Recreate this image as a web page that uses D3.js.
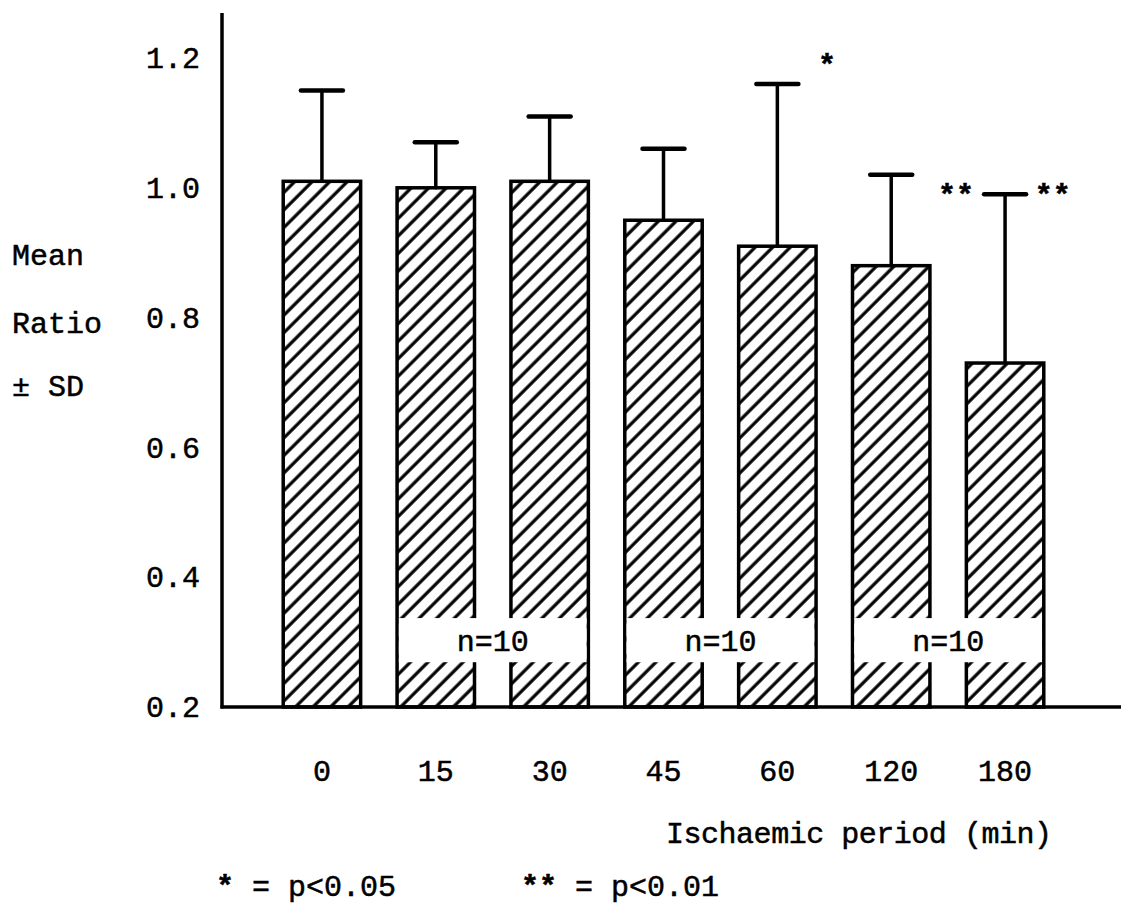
<!DOCTYPE html>
<html>
<head>
<meta charset="utf-8">
<script src="https://cdn.jsdelivr.net/npm/d3@7"></script>
<style>
  html, body { margin: 0; padding: 0; background: #fff; }
  svg { display: block; }
  text { font-family: "Liberation Mono", "Courier New", monospace; font-size: 30px; fill: #000; stroke: #000; stroke-width: 0.5px; }
  .star { font-weight: bold; }
</style>
</head>
<body>
<script>
// Ischaemic period groups (min)
const periods = ["0", "15", "30", "45", "60", "120", "180"];
// Mean ratio per period and its standard deviation
const meanRatio = [1.01, 1.00, 1.01, 0.95, 0.91, 0.88, 0.73];
const sdRatio   = [0.14, 0.07, 0.10, 0.11, 0.25, 0.14, 0.26];
// Significance markers per period
const significance = ["", "", "", "", "*", "**", "**"];
// Period pairs sharing a sample-size label
const sampleGroups = [["15", "30"], ["45", "60"], ["120", "180"]];
const sampleLabel = "n=10";
// Y axis tick values
const yTicks = [0.2, 0.4, 0.6, 0.8, 1.0, 1.2];

const W = 1121, H = 908;
const svg = d3.select("body").append("svg").attr("width", W).attr("height", H);
svg.append("rect").attr("width", W).attr("height", H).attr("fill", "#fff");

const y = d3.scaleLinear().domain([0.2, 1.2]).range([707, 58]);
const x = d3.scaleBand().domain(periods).range([265, 1062]).paddingInner(0.32).paddingOuter(0.16);
const bw = x.bandwidth();
const axisX = 222;

// Diagonal hatch fill
const defs = svg.append("defs");
defs.append("pattern")
  .attr("id", "hatch")
  .attr("patternUnits", "userSpaceOnUse")
  .attr("width", 12.4).attr("height", 12.4)
  .attr("patternTransform", "rotate(45)")
  .append("line")
  .attr("x1", 2).attr("y1", -2).attr("x2", 2).attr("y2", 15)
  .attr("stroke", "#000").attr("stroke-width", 3.2);

const data = periods.map((p, i) => ({ p, mean: meanRatio[i], sd: sdRatio[i], sig: significance[i] }));

// Bars
svg.append("g").selectAll("rect").data(data).join("rect")
  .attr("x", d => x(d.p))
  .attr("y", d => y(d.mean))
  .attr("width", bw)
  .attr("height", d => y(0.2) - y(d.mean))
  .attr("fill", "url(#hatch)")
  .attr("stroke", "#000").attr("stroke-width", 3.5);

// Error bars (upper SD only)
const err = svg.append("g").attr("stroke", "#000").attr("stroke-linecap", "round");
err.selectAll("line.v").data(data).join("line").attr("class", "v")
  .attr("x1", d => x(d.p) + bw / 2).attr("x2", d => x(d.p) + bw / 2)
  .attr("y1", d => y(d.mean)).attr("y2", d => y(d.mean + d.sd))
  .attr("stroke-width", 3.5);
err.selectAll("line.cap").data(data).join("line").attr("class", "cap")
  .attr("x1", d => x(d.p) + bw / 2 - 21).attr("x2", d => x(d.p) + bw / 2 + 21)
  .attr("y1", d => y(d.mean + d.sd)).attr("y2", d => y(d.mean + d.sd))
  .attr("stroke-width", 4.5);

// Sample-size boxes spanning each pair of bars
const boxTop = 0.337, boxBottom = 0.269;
const nb = svg.append("g");
sampleGroups.forEach(([a, b]) => {
  const x0 = x(a), x1 = x(b) + bw;
  nb.append("rect")
    .attr("x", x0 + 1.75).attr("y", y(boxTop))
    .attr("width", x1 - x0 - 3.5).attr("height", y(boxBottom) - y(boxTop))
    .attr("fill", "#fff");
  nb.append("text")
    .attr("x", (x0 + x1) / 2).attr("y", y((boxTop + boxBottom) / 2))
    .attr("dy", "0.35em").attr("text-anchor", "middle")
    .text(sampleLabel);
});

// Significance markers
const sigPlacement = { "60": { dx: 2, level: 1.2 }, "120": { dx: 8, level: 1.0 }, "180": { dx: -9, level: 1.0 } };
svg.append("g").selectAll("text").data(data.filter(d => d.sig)).join("text")
  .attr("class", "star")
  .attr("x", d => x(d.p) + bw + sigPlacement[d.p].dx)
  .attr("y", d => y(sigPlacement[d.p].level) + 17)
  .text(d => d.sig);

// Axes
const yAxis = svg.append("g").attr("transform", `translate(${axisX},0)`)
  .call(d3.axisLeft(y).tickValues(yTicks).tickSize(0).tickPadding(22).tickFormat(d3.format(".1f")));
yAxis.select(".domain").remove();
yAxis.selectAll("text").attr("font-size", null).attr("font-family", null);

const xAxis = svg.append("g").attr("transform", `translate(0,${y(0.2)})`)
  .call(d3.axisBottom(x).tickSize(0).tickPadding(53));
xAxis.select(".domain").remove();
xAxis.selectAll("text").attr("font-size", null).attr("font-family", null);

svg.append("line")
  .attr("x1", axisX).attr("x2", axisX)
  .attr("y1", 13).attr("y2", y(0.2) + 1.5)
  .attr("stroke", "#000").attr("stroke-width", 3.5);
svg.append("line")
  .attr("x1", axisX - 1.5).attr("x2", W)
  .attr("y1", y(0.2)).attr("y2", y(0.2))
  .attr("stroke", "#000").attr("stroke-width", 3.5);

// Axis titles
const yTitle = svg.append("g");
[["Mean", 265], ["Ratio", 333], ["± SD", 396]].forEach(([t, yy]) => {
  yTitle.append("text").attr("x", 12).attr("y", yy).text(t);
});
svg.append("text").attr("x", 666).attr("y", 843).attr("textLength", 386).text("Ischaemic period (min)");

// Significance legend
const leg1 = svg.append("text").attr("x", 216).attr("y", 896);
leg1.append("tspan").attr("class", "star").text("*");
leg1.append("tspan").text(" = p<0.05");
const leg2 = svg.append("text").attr("x", 521).attr("y", 896);
leg2.append("tspan").attr("class", "star").text("**");
leg2.append("tspan").text(" = p<0.01");
</script>
</body>
</html>
